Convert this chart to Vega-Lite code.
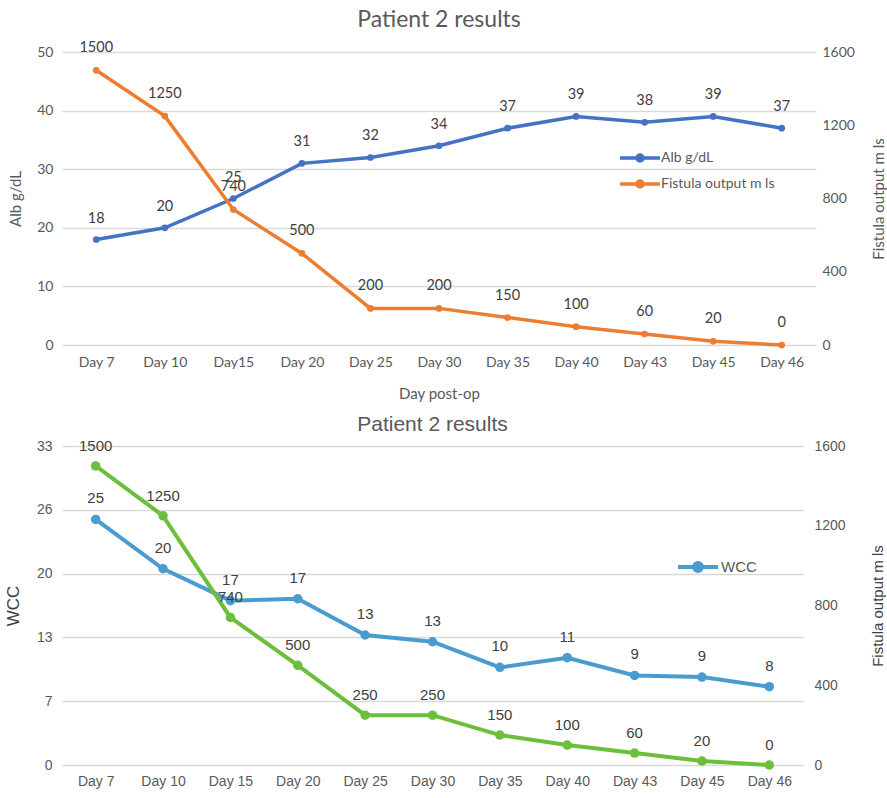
{
  "$schema": "https://vega.github.io/schema/vega-lite/v6.json",
  "padding": {"left": 4, "top": 9, "right": 0, "bottom": 5},
  "spacing": 12,
  "background": "white",
  "datasets": {
    "top": [
      {"day": "Day 7", "alb": 18, "fistula": 1500},
      {"day": "Day 10", "alb": 20, "fistula": 1250},
      {"day": "Day15", "alb": 25, "fistula": 740},
      {"day": "Day 20", "alb": 31, "fistula": 500},
      {"day": "Day 25", "alb": 32, "fistula": 200},
      {"day": "Day 30", "alb": 34, "fistula": 200},
      {"day": "Day 35", "alb": 37, "fistula": 150},
      {"day": "Day 40", "alb": 39, "fistula": 100},
      {"day": "Day 43", "alb": 38, "fistula": 60},
      {"day": "Day 45", "alb": 39, "fistula": 20},
      {"day": "Day 46", "alb": 37, "fistula": 0}
    ],
    "bot": [
      {"day": "Day 7", "wcc": 25.4, "fistula": 1500},
      {"day": "Day 10", "wcc": 20.3, "fistula": 1250},
      {"day": "Day 15", "wcc": 17.0, "fistula": 740},
      {"day": "Day 20", "wcc": 17.2, "fistula": 500},
      {"day": "Day 25", "wcc": 13.45, "fistula": 250},
      {"day": "Day 30", "wcc": 12.75, "fistula": 250},
      {"day": "Day 35", "wcc": 10.1, "fistula": 150},
      {"day": "Day 40", "wcc": 11.1, "fistula": 100},
      {"day": "Day 43", "wcc": 9.27, "fistula": 60},
      {"day": "Day 45", "wcc": 9.1, "fistula": 20},
      {"day": "Day 46", "wcc": 8.1, "fistula": 0}
    ]
  },
  "vconcat": [
    {
      "title": {"text": "Patient 2 results", "font": "Lato", "fontSize": 23, "fontWeight": "normal", "color": "#595959", "offset": 8},
      "width": 754,
      "height": 293,
      "data": {"name": "top"},
      "encoding": {
        "x": {
          "field": "day", "type": "ordinal", "sort": null, "title": "Day post-op",
          "axis": {"labelAngle": 0, "labelFont": "Lato", "labelFontSize": 14, "labelColor": "#595959", "ticks": false, "domain": false, "grid": false, "labelPadding": 10, "titleFont": "Lato", "titleFontSize": 15, "titleFontWeight": "normal", "titleColor": "#595959", "titlePadding": 17}
        }
      },
      "layer": [
        {
          "encoding": {
            "y": {
              "field": "alb", "type": "quantitative", "title": "Alb g/dL",
              "scale": {"domain": [0, 50]},
              "axis": {"values": [0, 10, 20, 30, 40, 50], "grid": true, "gridColor": "#d9d9d9", "gridWidth": 1.5, "ticks": false, "domain": false, "labelFont": "Lato", "labelFontSize": 14, "labelColor": "#595959", "labelPadding": 9, "titleFont": "Lato", "titleFontSize": 15, "titleFontWeight": "normal", "titleColor": "#595959", "titlePadding": 13}
            }
          },
          "layer": [
            {
              "mark": {"type": "line", "strokeWidth": 3.5, "point": {"size": 45, "filled": true}},
              "encoding": {
                "color": {
                  "datum": "Alb g/dL", "type": "nominal",
                  "scale": {"domain": ["Alb g/dL", "Fistula output m ls"], "range": ["#4472c4", "#ed7d31"]},
                  "legend": {
                    "title": null, "orient": "none", "legendX": 566, "legendY": 94, "padding": 0,
                    "symbolType": "M-2,0H2M-0.3,0A0.3,0.3 0 1,0 0.3,0A0.3,0.3 0 1,0 -0.3,0",
                    "symbolSize": 400, "symbolStrokeWidth": 3.5, "labelOffset": 9, "rowPadding": 4,
                    "labelFont": "Lato", "labelFontSize": 14, "labelColor": "#595959",
                    "encode": {"symbols": {"update": {"fill": {"scale": "color", "field": "value"}}}}
                  }
                }
              }
            },
            {
              "mark": {"type": "text", "font": "Lato", "fontSize": 14.5, "color": "#404040", "dy": -21},
              "encoding": {"text": {"field": "alb", "type": "quantitative"}}
            }
          ]
        },
        {
          "encoding": {
            "y": {
              "field": "fistula", "type": "quantitative", "title": "Fistula output  m ls",
              "scale": {"domain": [0, 1600]},
              "axis": {"orient": "right", "values": [0, 400, 800, 1200, 1600], "format": "d", "grid": false, "ticks": false, "domain": false, "labelFont": "Lato", "labelFontSize": 14, "labelColor": "#595959", "labelPadding": 6, "titleFont": "Lato", "titleFontSize": 15, "titleFontWeight": "normal", "titleColor": "#595959", "titlePadding": 32, "titleAngle": 270}
            }
          },
          "layer": [
            {
              "mark": {"type": "line", "strokeWidth": 3.5, "point": {"size": 45, "filled": true}},
              "encoding": {"color": {"datum": "Fistula output m ls", "type": "nominal"}}
            },
            {
              "mark": {"type": "text", "font": "Lato", "fontSize": 14.5, "color": "#404040", "dy": -22},
              "encoding": {"text": {"field": "fistula", "type": "quantitative"}}
            }
          ]
        }
      ],
      "resolve": {"scale": {"y": "independent"}}
    },
    {
      "title": {"text": "Patient 2 results", "font": "Liberation Sans", "fontSize": 21, "fontWeight": "normal", "color": "#595959", "offset": 4},
      "width": 741,
      "height": 319,
      "data": {"name": "bot"},
      "encoding": {
        "x": {
          "field": "day", "type": "ordinal", "sort": null, "title": null,
          "axis": {"labelAngle": 0, "labelFont": "Liberation Sans", "labelFontSize": 14, "labelColor": "#595959", "ticks": false, "domain": false, "grid": false, "labelPadding": 9}
        }
      },
      "layer": [
        {
          "encoding": {
            "y": {
              "field": "wcc", "type": "quantitative", "title": "WCC",
              "scale": {"domain": [0, 33]},
              "axis": {"values": [0, 6.6, 13.2, 19.8, 26.4, 33], "format": ".0f", "grid": true, "gridColor": "#d9d9d9", "gridWidth": 1.5, "ticks": false, "domain": false, "labelFont": "Liberation Sans", "labelFontSize": 14, "labelColor": "#595959", "labelPadding": 10, "titleFont": "Liberation Sans", "titleFontSize": 17, "titleFontWeight": "normal", "titleColor": "#404040", "titlePadding": 14}
            }
          },
          "layer": [
            {
              "mark": {"type": "line", "strokeWidth": 4, "point": {"size": 90, "filled": true}},
              "encoding": {
                "color": {
                  "datum": "WCC", "type": "nominal",
                  "scale": {"domain": ["WCC"], "range": ["#4a9bd0"]},
                  "legend": {
                    "title": null, "orient": "none", "legendX": 624, "legendY": 109, "padding": 0,
                    "symbolType": "M-2,0H2M-0.4,0A0.4,0.4 0 1,0 0.4,0A0.4,0.4 0 1,0 -0.4,0",
                    "symbolSize": 400, "symbolStrokeWidth": 4, "labelOffset": 11,
                    "labelFont": "Liberation Sans", "labelFontSize": 15, "labelColor": "#595959",
                    "encode": {"symbols": {"update": {"fill": {"scale": "color", "field": "value"}}}}
                  }
                }
              }
            },
            {
              "mark": {"type": "text", "font": "Liberation Sans", "fontSize": 15, "color": "#404040", "dy": -21},
              "encoding": {"text": {"field": "wcc", "type": "quantitative", "format": ".0f"}}
            }
          ]
        },
        {
          "encoding": {
            "y": {
              "field": "fistula", "type": "quantitative", "title": "Fistula output  m ls",
              "scale": {"domain": [0, 1600]},
              "axis": {"orient": "right", "values": [0, 400, 800, 1200, 1600], "format": "d", "grid": false, "ticks": false, "domain": false, "labelFont": "Liberation Sans", "labelFontSize": 14, "labelColor": "#595959", "labelPadding": 11, "titleFont": "Liberation Sans", "titleFontSize": 15, "titleFontWeight": "normal", "titleColor": "#404040", "titlePadding": 40, "titleAngle": 270}
            }
          },
          "layer": [
            {
              "mark": {"type": "line", "strokeWidth": 4, "color": "#6cbf3b", "point": {"size": 90, "filled": true, "color": "#6cbf3b"}},
              "encoding": {}
            },
            {
              "mark": {"type": "text", "font": "Liberation Sans", "fontSize": 15, "color": "#404040", "dy": -20},
              "encoding": {"text": {"field": "fistula", "type": "quantitative"}}
            }
          ]
        }
      ],
      "resolve": {"scale": {"y": "independent"}}
    }
  ],
  "resolve": {"scale": {"color": "independent"}, "legend": {"color": "independent"}},
  "config": {
    "view": {"stroke": null},
    "font": "Lato"
  }
}
